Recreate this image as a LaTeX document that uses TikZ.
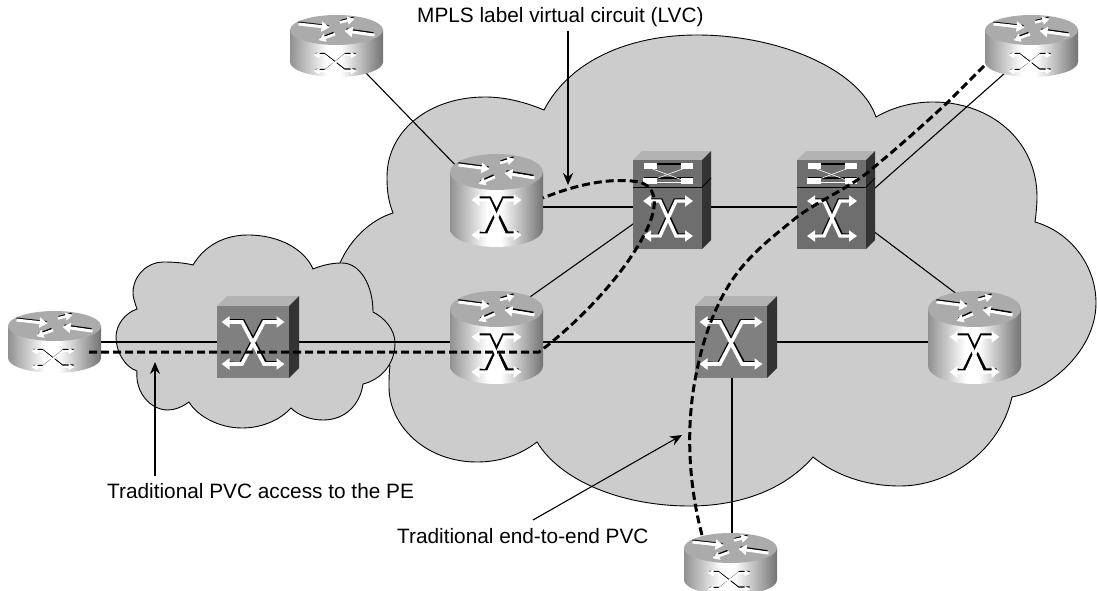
\documentclass[tikz,border=0pt]{standalone}
\usepackage{fontspec}
\setmainfont{Liberation Sans}
\usetikzlibrary{arrows.meta}
\definecolor{cloudgray}{HTML}{CCCCCC}
\definecolor{rtop}{HTML}{ABABAB}
\definecolor{swfront}{HTML}{808080}
\definecolor{swtop}{HTML}{B3B3B3}
\definecolor{swside}{HTML}{333333}
\definecolor{atmfront}{HTML}{6E6E6E}
\pgfdeclarehorizontalshading{cylsh}{100bp}{color(0bp)=(rtop!85!black); color(25bp)=(rtop!85!black); color(45bp)=(white); color(52bp)=(white); color(75bp)=(black!55); color(100bp)=(black!55)}
\tikzset{
  cloudshape/.style={draw=black,line width=0.9pt,fill=cloudgray},
  link/.style={draw=black,line width=1.1pt},
  pvc/.style={draw=black,line width=3pt,dash pattern=on 8pt off 4pt},
  callout/.style={draw=black,line width=1.1pt,-{Stealth[length=12pt,width=10pt]}},
  lbl/.style={font=\fontsize{20.8}{24}\selectfont,inner sep=0pt,text=black,anchor=base west},
  wa/.style={draw=white,line width=#1,-{Triangle[length=8pt,width=10pt]}},
  ba/.style={draw=black,line width=#1},
  wb/.style={draw=white,line width=#1,{Triangle[length=8pt,width=11pt]}-{Triangle[length=8pt,width=11pt]}},
}
% top-of-router arrows, origin = centre of top ellipse
\newcommand{\toparrows}{%
  \draw[ba=1.6pt] (-38,-9) -- (-8,-5);
  \draw[wa=3pt] (-38,-7) -- (-7,-3);
  \draw[ba=1.4pt] (4,-11) -- (17,-15);
  \draw[draw=white,line width=2.6pt,-{Triangle[length=7pt,width=8pt]}] (3.5,-9) -- (18,-13);
  \draw[ba=1.6pt] (37,3.5) -- (10,-1);
  \draw[wa=3pt] (38,6) -- (8,1);
  \draw[ba=1.4pt] (-3,3) -- (-16,9);
  \draw[draw=white,line width=2.6pt,-{Triangle[length=7pt,width=8pt]}] (-1.5,5) -- (-18,12);
}
% the crossed bent arrows: half width, half height, elbow, white width, shadow offset
\newcommand{\crossarrows}[5]{%
  \draw[ba=#4] (-#1+5,-#2-#5) -- (-#3+1,-#2-#5) -- (#3+#5+0.5,#2-#5) -- (#1-3,#2-#5);
  \draw[ba=#4] (#1-5,-#2-#5) -- (#3-1,-#2-#5) -- (-#3-#5-0.5,#2-#5+1) -- (-#1+5,#2-#5);
  \draw[wb=#4] (-#1,-#2) -- (-#3,-#2) -- (#3,#2) -- (#1,#2);
  \draw[wb=#4] (#1,-#2) -- (#3,-#2) -- (-#3,#2) -- (-#1,#2);
}
\newcommand{\cylrouter}[2]{%
  \begin{scope}[shift={(#1,#2)}]
    \path[shading=cylsh] (-46.5,0) -- (-46.5,57) arc[x radius=46.5pt,y radius=18pt,start angle=180,end angle=360] -- (46.5,0) -- cycle;
    \fill[rtop] (0,0) ellipse[x radius=46.5pt,y radius=18pt];
    \toparrows
    \begin{scope}[shift={(0,45.5)}]\crossarrows{25}{17.5}{8}{3.4pt}{2}\end{scope}
  \end{scope}}
\newcommand{\flatrouter}[2]{%
  \begin{scope}[shift={(#1,#2)}]
    \path[shading=cylsh] (-46.5,0) -- (-46.5,32) arc[x radius=46.5pt,y radius=15pt,start angle=180,end angle=360] -- (46.5,0) -- cycle;
    \fill[rtop] (0,0) ellipse[x radius=46.5pt,y radius=15pt];
    \begin{scope}[yscale=0.85]\toparrows\end{scope}
    \begin{scope}[shift={(-1,33.5)}]
      \draw[ba=1.1pt] (-20,-10) -- (-11,-10) -- (9,5.5) -- (20,5.5);
      \draw[ba=1.1pt] (20,-10) -- (10,-10) -- (-10,6) -- (-20,6);
      \draw[draw=white,line width=1.8pt,-{Triangle[length=6pt,width=6pt]}] (-20,-8.5) -- (-11,-8.5) -- (9,7.5) -- (21,7.5);
      \draw[draw=white,line width=1.8pt,-{Triangle[length=6pt,width=6pt]}] (-11,7.5) -- (-22,7.5);
      \draw[draw=white,line width=1.8pt,-{Triangle[length=6pt,width=6pt]}] (-11,7.5) -- (9,-8.5) -- (21,-8.5);
      \draw[draw=white,line width=1.8pt,-{Triangle[length=6pt,width=6pt]}] (-13,-8.5) -- (-22,-8.5);
    \end{scope}
  \end{scope}}
\newcommand{\atmswitch}[2]{% #1,#2 = top-left of the front face
  \begin{scope}[shift={(#1,#2)}]
    \fill[swtop] (0,0) -- (10,-10) -- (82,-10) -- (72,0) -- cycle;
    \fill[swside] (72,0) -- (82,-10) -- (82,62) -- (72,72) -- cycle;
    \fill[swfront] (0,0) rectangle (72,72);
    \begin{scope}[shift={(36,37)}]\crossarrows{31.5}{21}{11}{3.6pt}{1}\end{scope}
  \end{scope}}
\newcommand{\atmlsr}[2]{% #1,#2 = top-left of the front face
  \begin{scope}[shift={(#1,#2)}]
    \fill[swtop] (0,0) -- (9,-9) -- (78,-9) -- (69,0) -- cycle;
    \fill[swside] (69,0) -- (78,-9) -- (78,80) -- (69,89) -- cycle;
    \fill[atmfront] (0,0) rectangle (69,89);
    \draw[black,line width=1pt] (0,27) -- (69,27);
    \draw[black,line width=0.7pt] (69,27) -- (78,18);
    \fill[black] (11,3) rectangle (60,5);
    \fill[black] (11,17) rectangle (60,19);
    \draw[white,line width=0.6pt] (17,8) -- (52,21);
    \draw[white,line width=0.6pt] (17,21) -- (52,8);
    \draw[white,line width=0.6pt] (17,22.5) -- (52,22.5);
    \fill[white] (11,3) rectangle (24,8.5);
    \fill[white] (48,3) rectangle (60,8.5);
    \fill[white] (10,18) rectangle (24,23.5);
    \fill[white] (48,18) rectangle (60,23.5);
    \begin{scope}[shift={(35,58.5)}]\crossarrows{25}{17.5}{8}{3.4pt}{1}\end{scope}
  \end{scope}}
\begin{document}
\begin{tikzpicture}[x=1pt,y=-1pt]
\useasboundingbox (0,0) rectangle (1097,591);
\begin{scope}
\clip (0,0) rectangle (1097,591);
% clouds
\path[cloudshape] (544,110) .. controls (570,60) and (630,35) .. (697,35)
  .. controls (780,35) and (860,70) .. (876,117)
  .. controls (895,106) and (915,102) .. (933,102)
  .. controls (990,102) and (1037,140) .. (1037,197)
  .. controls (1037,205) and (1036,215) .. (1035,222)
  .. controls (1070,232) and (1096,265) .. (1096,303)
  .. controls (1096,350) and (1050,390) .. (1012,397)
  .. controls (1000,450) and (950,486) .. (900,486)
  .. controls (865,486) and (835,475) .. (813,457)
  .. controls (780,495) and (730,506) .. (690,506)
  .. controls (620,506) and (560,480) .. (537,442)
  .. controls (520,455) and (500,462) .. (477,462)
  .. controls (425,462) and (389,425) .. (389,387)
  .. controls (389,380) and (389,372) .. (390,366)
  -- (350,300) -- (340,263)
  .. controls (350,240) and (370,220) .. (393,213)
  .. controls (388,200) and (387,190) .. (387,177)
  .. controls (387,130) and (430,97) .. (485,97)
  .. controls (505,97) and (525,102) .. (544,110) -- cycle;
\path[cloudshape] (193,265) .. controls (205,245) and (225,235) .. (248,235)
  .. controls (280,235) and (305,250) .. (313,269)
  .. controls (325,264) and (335,263) .. (342,263)
  .. controls (360,263) and (373,285) .. (373,312)
  .. controls (385,318) and (395,330) .. (395,343)
  .. controls (395,365) and (380,380) .. (363,384)
  .. controls (360,405) and (345,420) .. (323,420)
  .. controls (310,420) and (298,415) .. (291,408)
  .. controls (280,420) and (262,428) .. (242,428)
  .. controls (220,428) and (198,417) .. (189,402)
  .. controls (182,407) and (175,410) .. (168,410)
  .. controls (150,410) and (135,392) .. (137,371)
  .. controls (125,367) and (116,352) .. (116,337)
  .. controls (116,325) and (125,313) .. (137,309)
  .. controls (134,300) and (133,297) .. (133,293)
  .. controls (133,275) and (148,262) .. (163,262)
  .. controls (175,262) and (185,263) .. (193,265) -- cycle;
% connection points
\coordinate (ce0) at (54,342);
\coordinate (sw0) at (253,342);
\coordinate (pe2) at (496,342);
\coordinate (pe2up) at (496,321);
\coordinate (sw1) at (732,342);
\coordinate (pe3) at (974,342);
\coordinate (pe3up) at (974,307);
\coordinate (ce1) at (336,42);
\coordinate (pe1) at (496,207);
\coordinate (p1) at (667,207);
\coordinate (p1dn) at (667,200);
\coordinate (p2) at (836,207);
\coordinate (p2up) at (836,222.5);
\coordinate (p2dn) at (836,203);
\coordinate (ce2) at (1031,50);
\coordinate (ce3) at (732,560);
\coordinate (lvcS) at (539,352);
\coordinate (lvcE) at (543,198);
\coordinate (ce0d) at (89,352);
\coordinate (pvcS) at (702,535);
\coordinate (pvcE) at (985,65);
% links
\draw[link] (ce0) -- (sw0);
\draw[link] (sw0) -- (pe2);
\draw[link] (pe2) -- (sw1);
\draw[link] (sw1) -- (pe3);
\draw[link] (ce1) -- (pe1);
\draw[link] (pe1) -- (p1);
\draw[link] (p1) -- (p2);
\draw[link] (pe2up) -- (p1dn);
\draw[link] (p2up) -- (ce2);
\draw[link] (p2dn) -- (pe3up);
\draw[link] (sw1) -- (ce3);
% devices
\flatrouter{54.5}{326}
\flatrouter{336.5}{30}
\flatrouter{1031.5}{30}
\flatrouter{730.5}{548}
\cylrouter{496.5}{172}
\cylrouter{496.5}{309}
\cylrouter{974.5}{309}
\atmswitch{217}{306}
\atmswitch{695}{306}
\atmlsr{633}{160}
\atmlsr{797}{160}
% virtual circuits
\draw[pvc] (ce0d) -- (lvcS)
  .. controls (575,325) and (620,280) .. (643,237)
  .. controls (655,215) and (662,190) .. (640,182)
  .. controls (610,177) and (575,185) .. (lvcE);
\draw[pvc] (pvcS) .. controls (690,490) and (684,430) .. (697,370)
  .. controls (705,330) and (720,295) .. (738,272)
  .. controls (755,250) and (775,235) .. (797,217)
  .. controls (820,200) and (845,190) .. (867,173)
  .. controls (895,150) and (920,128) .. (947,103)
  .. controls (960,90) and (972,78) .. (pvcE);
% labels and callouts
\node[lbl] (t1) at (417,23) {MPLS label virtual circuit (LVC)};
\node[lbl] (t2) at (107,498) {Traditional PVC access to the PE};
\node[lbl] (t3) at (397,543) {Traditional end-to-end PVC};
\coordinate (a1s) at (568,31);
\coordinate (a1e) at (568,185);
\coordinate (a2s) at (155,476);
\coordinate (a2e) at (155,362);
\coordinate (a3s) at (533,520);
\coordinate (a3e) at (682,435);
\draw[callout] (a1s) -- (a1e);
\draw[callout] (a2s) -- (a2e);
\draw[callout] (a3s) -- (a3e);
\end{scope}
\end{tikzpicture}
\end{document}
